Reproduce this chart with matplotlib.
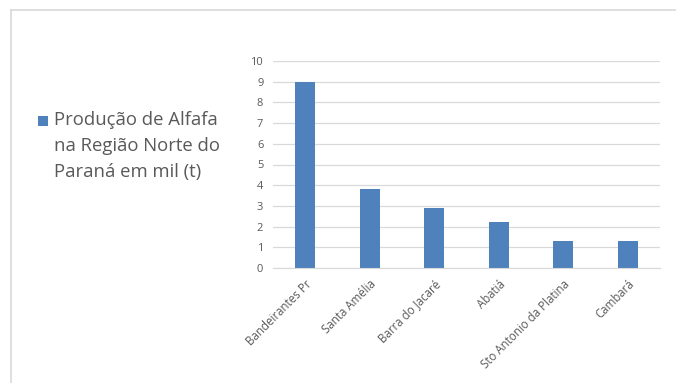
import matplotlib
matplotlib.use("Agg")
import matplotlib.pyplot as plt
from matplotlib.lines import Line2D
from matplotlib.patches import Rectangle

plt.rcParams['font.family'] = ['Open Sans', 'DejaVu Sans']

categories = ["Bandeirantes Pr", "Santa Amélia", "Barra do Jacaré", "Abatiá",
              "Sto Antonio da Platina", "Cambará"]
values = [9.0, 3.8, 2.9, 2.2, 1.3, 1.3]
yticks = list(range(0, 11))
legend_label = "Produção de Alfafa\nna Região Norte do\nParaná em mil (t)"

bar_color = "#4F81BD"
text_gray = "#595959"

fig = plt.figure(figsize=(6.76, 3.83), dpi=100)
fig.patch.set_facecolor("white")

# outer frame (left and top edges visible)
fig.add_artist(Line2D([11/676, 11/676], [0, 1 - 10/383], transform=fig.transFigure,
                      color="#D9D9D9", lw=1.2))
fig.add_artist(Line2D([11/676, 1], [1 - 10/383, 1 - 10/383], transform=fig.transFigure,
                      color="#D9D9D9", lw=1.2))

ax = fig.add_axes([273/676, 1 - 268/383, (660 - 273)/676, (268 - 61)/383])
x = list(range(len(categories)))
ax.bar(x, values, width=0.31, color=bar_color, zorder=3)
ax.set_xlim(-0.5, len(categories) - 0.5)
ax.set_ylim(0, 10)
ax.set_yticks(yticks)
ax.set_yticklabels([str(t) for t in yticks], color=text_gray, fontsize=8)
ax.set_xticks(x)
ax.set_xticklabels(categories, rotation=45, ha="right", rotation_mode="anchor",
                   color=text_gray, fontsize=8.3)
ax.tick_params(axis="y", length=0, pad=7)
ax.tick_params(axis="x", length=0, pad=7)
ax.grid(axis="y", color="#D9D9D9", lw=0.9, zorder=0)
for s in ["top", "right", "left"]:
    ax.spines[s].set_visible(False)
ax.spines["bottom"].set_color("#D9D9D9")
ax.spines["bottom"].set_zorder(4)

# legend on the left
fig.add_artist(Rectangle((38/676, 1 - 126/383), 10/676, 10/383, transform=fig.transFigure,
                         facecolor=bar_color, edgecolor="none"))
fig.text(54/676, 1 - 111/383, legend_label, ha="left", va="top", color=text_gray,
         fontsize=13.3, linespacing=1.58)

fig.savefig("out.png", dpi=100, facecolor="white")
